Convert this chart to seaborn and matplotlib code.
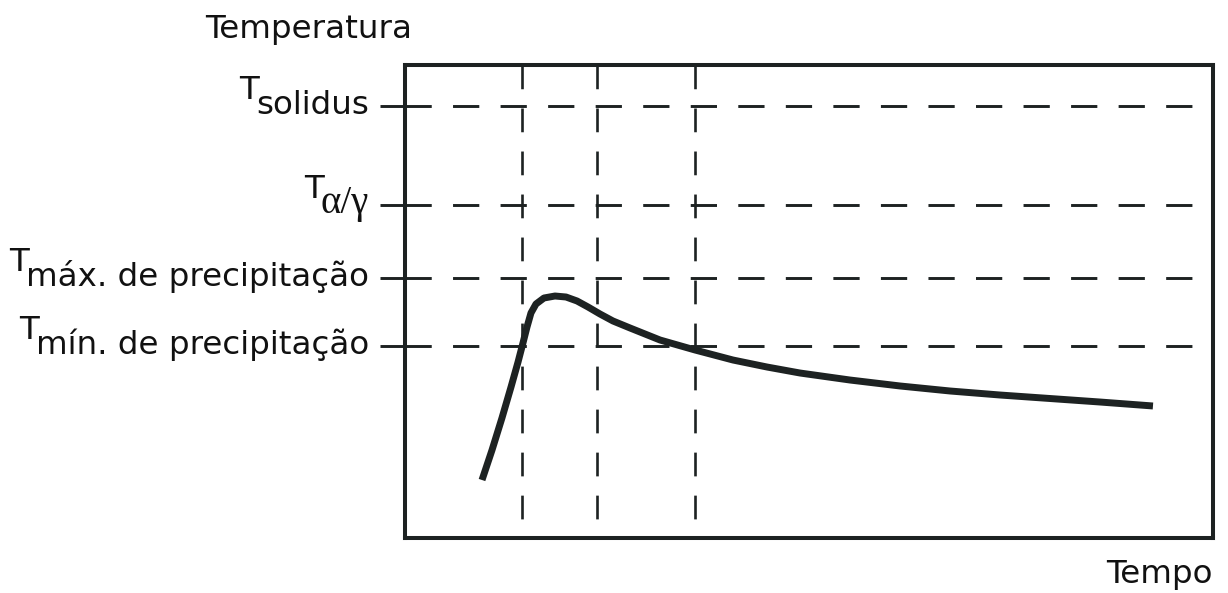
import matplotlib
matplotlib.use("Agg")
import matplotlib.pyplot as plt
import matplotlib.transforms as mtransforms
import seaborn as sns
import pandas as pd

# Precipitation curve (arbitrary units: time 0-100, temperature 0-100)
tempo = [9.53, 10.77, 12.00, 13.12, 13.99, 14.60, 15.10, 15.59, 16.21, 17.20,
         18.56, 19.93, 21.29, 22.65, 24.13, 25.74, 27.85, 31.56, 35.89, 40.59,
         44.80, 48.89, 55.07, 61.26, 67.45, 73.64, 79.83, 86.01, 92.57]
temperatura = [12.26, 18.60, 25.37, 31.92, 37.21, 41.23, 44.61, 47.57, 49.47, 50.74,
               51.16, 50.95, 50.11, 48.84, 47.36, 45.88, 44.40, 41.86, 39.75, 37.63,
               36.15, 34.88, 33.40, 32.14, 31.08, 30.23, 29.49, 28.75, 27.91]

# Reference temperature levels and their labels (subscripts of T)
niveis = [91.3, 70.4, 55.0, 40.6]
subscritos = ["solidus", "α/γ", "máx. de precipitação", "mín. de precipitação"]

# Reference times (vertical guides)
tempos_ref = [14.5, 23.8, 35.9]

sns.set_style("white")
plt.rcParams["font.family"] = ["DejaVu Sans"]

W, H, DPI = 1228, 593, 100
fig = plt.figure(figsize=(W / DPI, H / DPI), dpi=DPI)
ax = fig.add_axes([405 / W, 1 - 538 / H, (1213 - 405) / W, (538 - 65) / H])
ax.set_xlim(0, 100)
ax.set_ylim(0, 100)

ink = "#1d2222"
for s in ax.spines.values():
    s.set_visible(True)
    s.set_linewidth(2.9)
    s.set_color(ink)

ax.set_xticks([])
ax.set_yticks(niveis)
ax.set_yticklabels([])
ax.tick_params(axis="y", direction="out", length=18, width=2.1, color=ink, left=True)

# Dashed guides
dash = (9.0, 7.3)
for y in niveis:
    ax.plot([0, 100], [y, y], color=ink, lw=2.1, dashes=dash, zorder=1)
for x in tempos_ref:
    ax.plot([x, x], [100, 0], color=ink, lw=1.9, dashes=dash, zorder=1)

# Curve
df = pd.DataFrame({"tempo": tempo, "temperatura": temperatura})
sns.lineplot(data=df, x="tempo", y="temperatura", ax=ax, sort=False,
             estimator=None, color=ink, lw=5.0, zorder=3,
             solid_capstyle="butt", solid_joinstyle="round")
ax.set_xlabel("")
ax.set_ylabel("")

fs = 23.4
px = 1 / DPI
blend = mtransforms.blended_transform_factory(ax.transAxes, ax.transData)
for y, sub in zip(niveis, subscritos):
    off = mtransforms.ScaledTranslation(-36 * px, -8 * px, fig.dpi_scale_trans)
    if sub == "α/γ":
        t = ax.text(0, y, sub, transform=blend + off, ha="right", va="baseline",
                    fontsize=28, family=["Liberation Serif", "DejaVu Serif"],
                    color="#111111", clip_on=False)
    else:
        t = ax.text(0, y, sub, transform=blend + off, ha="right", va="baseline",
                    fontsize=fs, color="#111111", clip_on=False)
    ax.annotate("T", xy=(0, y), xycoords=(t, "data"), xytext=(3, 7),
                textcoords="offset pixels", ha="right", va="baseline",
                fontsize=fs, color="#111111", annotation_clip=False)

fig.text(205 / W, 1 - 38 / H, "Temperatura", ha="left", va="baseline",
         fontsize=fs, color="#111111")
fig.text(1213 / W, 1 - 583 / H, "Tempo", ha="right", va="baseline",
         fontsize=fs, color="#111111")

fig.savefig("out.png", dpi=DPI, facecolor="white")
